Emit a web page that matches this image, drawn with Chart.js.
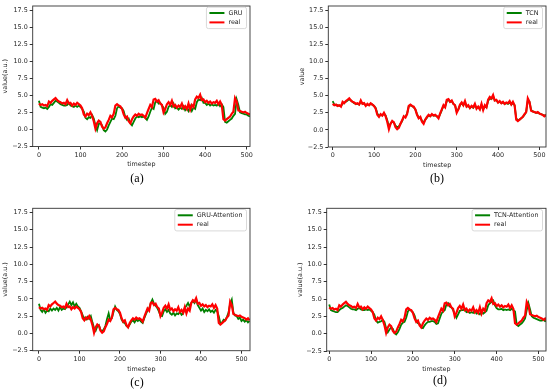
<!DOCTYPE html>
<html><head><meta charset="utf-8">
<script src="https://cdn.jsdelivr.net/npm/chart.js@4.4.1/dist/chart.umd.min.js"></script>
<style>
html,body{margin:0;padding:0;background:#fff;width:550px;height:390px;overflow:hidden;position:relative;}
.cell{position:absolute;width:275px;height:195px;}
canvas{display:block;}
.cap{position:absolute;font-family:"Liberation Serif","Times New Roman",serif;font-size:12px;color:#000;transform:translate(-50%,-50%);white-space:nowrap;}
</style></head><body>
<div class="cell" style="left:0;top:0"><canvas id="ca" width="275" height="195"></canvas></div>
<div class="cell" style="left:275px;top:0"><canvas id="cb" width="275" height="195"></canvas></div>
<div class="cell" style="left:0;top:195px"><canvas id="cc" width="275" height="195"></canvas></div>
<div class="cell" style="left:275px;top:195px"><canvas id="cd" width="275" height="195"></canvas></div>
<div class="cap" style="left:137px;top:178px">(a)</div>
<div class="cap" style="left:437px;top:177.5px">(b)</div>
<div class="cap" style="left:137px;top:381.5px">(c)</div>
<div class="cap" style="left:440px;top:379.5px">(d)</div>
<script>
// sampling interval of the values (timesteps)
const STEP = 4;

const realValues = [
  3.8, 3.6, 3.7, 3.5, 3.6, 3.4, 4.1, 3.9, 4.2, 4.4,
  4.6, 4.3, 4.1, 4.0, 3.8, 3.9, 3.7, 4.3, 3.8, 3.9,
  3.5, 3.8, 3.6, 3.9, 3.7, 3.5, 3.1, 2.2, 1.9, 2.3,
  2.1, 2.5, 2.0, 1.2, 0.1, 0.9, 1.3, 1.1, 0.4, 0.1,
  0.3, 0.9, 1.4, 2.0, 1.8, 2.3, 3.5, 3.7, 3.5, 3.4,
  3.0, 2.2, 1.7, 1.9, 1.2, 0.9, 1.5, 1.9, 2.2, 2.0,
  2.3, 2.1, 2.2, 2.0, 1.7, 2.4, 3.0, 3.6, 3.3, 4.4,
  4.5, 4.1, 4.3, 3.8, 3.6, 2.5, 3.0, 3.7, 4.0, 3.6,
  4.2, 3.4, 3.6, 3.2, 3.5, 3.3, 3.8, 3.1, 3.4, 3.0,
  3.8, 2.9, 3.6, 3.3, 4.4, 4.8, 4.6, 5.1, 4.3, 4.4,
  4.0, 4.2, 3.9, 4.1, 3.8, 4.0, 3.9, 4.2, 3.7, 4.1,
  3.6, 1.5, 1.3, 1.5, 1.7, 1.9, 2.3, 2.6, 4.6, 4.1,
  2.8, 2.7, 2.6, 2.5, 2.6, 2.4, 2.3, 2.2, 2.0, 2.2,
  1.9
];
const gruValues = [
  4.2, 3.3, 3.2, 3.1, 3.2, 3.0, 3.3, 3.7, 3.6, 3.9,
  4.2, 4.1, 3.9, 3.7, 3.6, 3.5, 3.5, 3.6, 3.9, 3.5,
  3.4, 3.3, 3.5, 3.3, 3.5, 3.3, 3.0, 2.6, 1.7, 1.5,
  1.8, 1.7, 2.1, 1.6, 0.6, -0.1, 0.8, 0.9, 0.6, -0.1,
  -0.3, 0.0, 0.6, 1.1, 1.6, 1.5, 2.0, 3.1, 3.4, 3.2,
  3.1, 2.7, 1.8, 1.4, 1.6, 0.9, 0.6, 1.1, 1.6, 1.9,
  1.8, 1.9, 1.8, 1.9, 1.7, 1.4, 1.9, 2.6, 3.2, 3.0,
  4.0, 4.2, 3.8, 3.9, 3.5, 3.2, 2.3, 2.6, 3.3, 3.6,
  3.3, 3.8, 3.1, 3.2, 2.9, 3.2, 3.0, 3.4, 2.8, 3.1,
  2.7, 3.4, 2.7, 3.2, 3.0, 4.0, 4.4, 4.3, 4.6, 3.9,
  3.9, 3.6, 3.8, 3.5, 3.7, 3.5, 3.6, 3.5, 3.8, 3.4,
  3.7, 3.3, 1.1, 1.0, 1.2, 1.4, 1.6, 2.0, 2.3, 4.4,
  3.6, 2.5, 2.4, 2.3, 2.2, 2.2, 2.0, 1.9, 1.9, 1.7,
  1.9
];
const tcnValues = [
  4.2, 3.7, 3.6, 3.6, 3.5, 3.5, 3.8, 4.0, 4.1, 4.3,
  4.5, 4.3, 4.1, 3.9, 3.8, 3.8, 3.7, 4.1, 3.9, 3.8,
  3.6, 3.7, 3.6, 3.8, 3.7, 3.5, 3.2, 2.4, 2.0, 2.2,
  2.1, 2.4, 2.1, 1.4, 0.5, 0.9, 1.2, 1.1, 0.6, 0.4,
  0.5, 0.9, 1.3, 1.9, 1.9, 2.4, 3.4, 3.6, 3.5, 3.3,
  3.0, 2.3, 1.8, 1.8, 1.3, 1.1, 1.5, 1.8, 2.1, 2.0,
  2.2, 2.1, 2.1, 2.0, 1.8, 2.3, 2.9, 3.5, 3.4, 4.2,
  4.4, 4.1, 4.2, 3.8, 3.6, 2.7, 3.0, 3.6, 3.9, 3.6,
  4.0, 3.4, 3.5, 3.2, 3.4, 3.2, 3.6, 3.2, 3.3, 3.0,
  3.6, 3.0, 3.4, 3.3, 4.2, 4.6, 4.5, 4.9, 4.3, 4.3,
  4.0, 4.1, 3.9, 4.0, 3.8, 3.9, 3.8, 4.0, 3.7, 3.9,
  3.6, 1.7, 1.4, 1.5, 1.7, 1.9, 2.2, 2.6, 4.3, 4.1,
  2.9, 2.7, 2.6, 2.5, 2.5, 2.4, 2.3, 2.2, 2.1, 2.1,
  1.9
];
const gruAttentionValues = [
  4.3, 3.4, 3.1, 3.5, 3.0, 3.3, 3.2, 3.6, 3.3, 3.6,
  3.4, 3.7, 3.3, 3.8, 3.4, 3.6, 3.5, 3.8, 4.2, 4.6,
  4.1, 4.5, 3.9, 4.3, 3.9, 3.7, 3.2, 2.6, 2.2, 2.0,
  2.4, 2.1, 2.5, 1.6, 0.8, 0.4, 1.0, 1.2, 0.5, 0.3,
  0.6, 1.1, 2.1, 2.9, 1.9, 2.2, 3.1, 3.9, 3.4, 3.2,
  2.8, 2.0, 1.6, 1.5, 1.1, 0.9, 1.3, 1.7, 1.9, 1.6,
  2.0, 1.8, 2.0, 1.7, 1.5, 2.2, 2.8, 3.3, 3.6, 4.4,
  4.9, 4.3, 4.0, 3.7, 3.2, 2.6, 2.5, 3.2, 3.5, 3.1,
  3.4, 2.9, 2.7, 3.0, 2.6, 2.9, 2.8, 3.1, 2.7, 2.9,
  3.7, 4.0, 4.4, 3.9, 4.4, 4.7, 4.4, 4.9, 4.1, 3.7,
  3.3, 3.6, 3.1, 3.4, 3.2, 3.5, 3.1, 3.3, 3.0, 3.4,
  3.2, 2.5, 1.4, 1.6, 2.0, 1.9, 2.4, 3.0, 4.3, 4.9,
  3.0, 2.6, 2.5, 2.1, 2.3, 1.8, 2.0, 1.7, 1.9, 1.6,
  1.8
];
const tcnAttentionValues = [
  4.2, 3.4, 3.3, 3.2, 3.1, 3.1, 3.4, 3.6, 3.7, 3.9,
  4.1, 4.0, 3.8, 3.6, 3.5, 3.5, 3.4, 3.6, 3.7, 3.5,
  3.4, 3.4, 3.5, 3.4, 3.5, 3.3, 3.1, 2.7, 1.9, 1.6,
  1.7, 1.8, 2.0, 1.7, 0.8, 0.2, 0.6, 0.9, 0.7, 0.1,
  -0.1, 0.2, 0.7, 1.3, 1.6, 1.7, 2.3, 3.2, 3.5, 3.3,
  3.1, 2.6, 1.8, 1.5, 1.4, 0.9, 0.8, 1.2, 1.5, 1.7,
  1.7, 1.8, 1.8, 1.7, 1.4, 1.5, 2.2, 2.9, 3.2, 3.4,
  4.2, 4.4, 3.9, 3.8, 3.4, 2.9, 2.3, 2.8, 3.3, 3.4,
  3.4, 3.6, 3.1, 3.2, 3.0, 3.1, 3.0, 3.3, 2.9, 3.0,
  2.8, 3.3, 2.9, 3.1, 3.3, 4.1, 4.4, 4.6, 4.8, 4.1,
  3.7, 3.5, 3.5, 3.6, 3.4, 3.5, 3.4, 3.5, 3.4, 3.6,
  3.4, 3.2, 1.3, 1.1, 1.3, 1.5, 1.8, 2.2, 3.4, 4.4,
  3.5, 2.5, 2.3, 2.2, 2.1, 2.0, 1.9, 1.9, 2.0, 1.8,
  1.9
];
const xTicks = [0, 100, 200, 300, 400, 500];
const yTicks = [-2.5, 0, 2.5, 5, 7.5, 10, 12.5, 15, 17.5];
const timesteps = realValues.map((_, i) => i * STEP);

const FONT = "'DejaVu Sans', sans-serif";
const TXT = '#262626';
const FS = 6.4;

const frameLegendPlugin = {
  id: 'frameLegend',
  afterDraw(chart) {
    const {ctx, chartArea: a} = chart;
    ctx.save();
    ctx.strokeStyle = '#333';
    ctx.lineWidth = 0.9;
    ctx.strokeRect(a.left, a.top, a.right - a.left, a.bottom - a.top);
    const ds = chart.data.datasets;
    ctx.font = FS + 'px ' + FONT;
    const maxW = Math.max(...ds.map(d => ctx.measureText(d.label).width));
    const w = 22 + maxW + 4, h = 21.4;
    const x = a.right - 3.5 - w, y = a.top + 1.2;
    ctx.beginPath();
    ctx.roundRect(x, y, w, h, 2);
    ctx.fillStyle = 'rgba(255,255,255,0.85)';
    ctx.fill();
    ctx.strokeStyle = '#cfcfcf';
    ctx.lineWidth = 0.8;
    ctx.stroke();
    ds.forEach((d, i) => {
      const ly = y + 5.8 + i * 9.4;
      ctx.strokeStyle = d.borderColor;
      ctx.lineWidth = 2;
      ctx.beginPath();
      ctx.moveTo(x + 3, ly);
      ctx.lineTo(x + 18, ly);
      ctx.stroke();
      ctx.fillStyle = TXT;
      ctx.textBaseline = 'middle';
      ctx.textAlign = 'left';
      ctx.fillText(d.label, x + 22, ly);
    });
    ctx.restore();
  }
};

function makeChart(id, cfg) {
  const tickFont = {family: FONT, size: FS};
  new Chart(document.getElementById(id), {
    type: 'line',
    data: {
      datasets: [
        {label: cfg.model, data: timesteps.map((t, i) => ({x: t, y: cfg.pred[i]})),
         borderColor: '#008000', borderWidth: 1.8, pointRadius: 0, order: 1, tension: 0},
        {label: 'real', data: timesteps.map((t, i) => ({x: t, y: realValues[i]})),
         borderColor: '#ff0000', borderWidth: 2.2, pointRadius: 0, order: 0, tension: 0}
      ]
    },
    options: {
      responsive: false, animation: false, devicePixelRatio: 1,
      layout: {padding: {left: cfg.padL, right: cfg.padR, top: cfg.padT, bottom: cfg.padB}},
      plugins: {legend: {display: false}, tooltip: {enabled: false}},
      scales: {
        x: {
          type: 'linear', min: cfg.xMin, max: cfg.xMax,
          afterBuildTicks: s => { s.ticks = xTicks.map(v => ({value: v})); },
          afterFit: s => { s.height = 22; },
          grid: {display: true, drawOnChartArea: false, drawTicks: true, tickLength: 3, color: '#333'},
          border: {display: false},
          ticks: {font: tickFont, color: TXT, padding: 2, maxRotation: 0, autoSkip: false,
                  callback: v => String(v)},
          title: {display: true, text: 'timestep', font: tickFont, color: TXT, padding: {top: 1, bottom: 0}}
        },
        y: {
          type: 'linear', min: -2.5, max: 18.1,
          afterBuildTicks: s => { s.ticks = yTicks.map(v => ({value: v})); },
          afterFit: s => { s.width = cfg.yW; },
          grid: {display: true, drawOnChartArea: false, drawTicks: true, tickLength: 3, color: '#333'},
          border: {display: false},
          ticks: {font: tickFont, color: TXT, padding: 2, autoSkip: false,
                  callback: v => v.toFixed(1).replace('-', '\u2212')},
          title: {display: true, text: cfg.yLabel, font: tickFont, color: TXT, padding: {top: 1, bottom: 0}}
        }
      }
    },
    plugins: [frameLegendPlugin]
  });
}

makeChart('ca', {model: 'GRU', pred: gruValues, yLabel: 'value(a.u.)',
  padL: 1, yW: 31.7, padR: 25, padT: 6, padB: 26.5, xMin: -15, xMax: 508});
makeChart('cb', {model: 'TCN', pred: tcnValues, yLabel: 'value',
  padL: 23, yW: 30.3, padR: 4, padT: 6, padB: 26, xMin: -10.6, xMax: 516});
makeChart('cc', {model: 'GRU-Attention', pred: gruAttentionValues, yLabel: 'value(a.u.)',
  padL: 1, yW: 31.7, padR: 25, padT: 13.3, padB: 17.3, xMin: -15.5, xMax: 521});
makeChart('cd', {model: 'TCN-Attention', pred: tcnAttentionValues, yLabel: 'value(a.u.)',
  padL: 21, yW: 30.7, padR: 4, padT: 13.3, padB: 17, xMin: -6, xMax: 518});
</script>
</body></html>
